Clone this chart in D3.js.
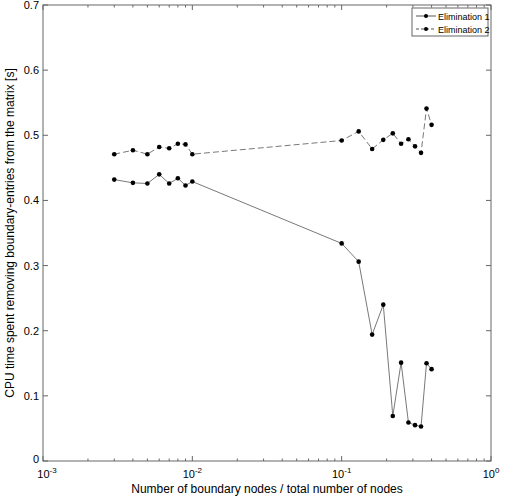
<!DOCTYPE html><html><head><meta charset="utf-8"><script src="https://cdn.jsdelivr.net/npm/d3@7"></script>
<style>body{margin:0;background:#fff}text{font-family:"Liberation Sans",Arial,sans-serif}</style></head><body>
<script>
const xVals=[0.003,0.004,0.005,0.006,0.007,0.008,0.009,0.01,0.1,0.13,0.16,0.19,0.22,0.25,0.28,0.31,0.34,0.37,0.4];
const elim1=[0.432,0.427,0.426,0.44,0.426,0.434,0.423,0.429,0.334,0.306,0.194,0.24,0.069,0.151,0.059,0.055,0.053,0.15,0.141];
const elim2=[0.471,0.477,0.471,0.482,0.480,0.487,0.486,0.471,0.492,0.506,0.479,0.493,0.503,0.487,0.494,0.483,0.473,0.541,0.516];
const yTicks=[0,0.1,0.2,0.3,0.4,0.5,0.6,0.7];
const xMajor=[-3,-2,-1,0];
const W=512,H=500,L=43,R=491,T=5,B=461;
const svg=d3.select("body").append("svg").attr("width",W).attr("height",H);
const x=d3.scaleLog().domain([1e-3,1]).range([L,R]);
const y=d3.scaleLinear().domain([0,0.7]).range([B,T]);
const ax="#666";
svg.append("rect").attr("x",L).attr("y",T).attr("width",R-L).attr("height",B-T).attr("fill","none").attr("stroke",ax);
const minor=[];for(let e=-3;e<0;e++)for(let k=2;k<=9;k++)minor.push(k*Math.pow(10,e));
minor.forEach(v=>{svg.append("line").attr("x1",x(v)).attr("x2",x(v)).attr("y1",B).attr("y2",B-2.5).attr("stroke",ax);
svg.append("line").attr("x1",x(v)).attr("x2",x(v)).attr("y1",T).attr("y2",T+2.5).attr("stroke",ax);});
xMajor.forEach(e=>{const v=Math.pow(10,e);
svg.append("line").attr("x1",x(v)).attr("x2",x(v)).attr("y1",B).attr("y2",B-5).attr("stroke",ax);
svg.append("line").attr("x1",x(v)).attr("x2",x(v)).attr("y1",T).attr("y2",T+5).attr("stroke",ax);
const t=svg.append("text").attr("x",x(v)+(e===-3?4:0)).attr("y",B+17).attr("text-anchor","middle").attr("font-size",11);
t.append("tspan").text("10");t.append("tspan").attr("dy",-5).attr("font-size",8).text(e);});
yTicks.forEach(v=>{svg.append("line").attr("x1",L).attr("x2",L+5).attr("y1",y(v)).attr("y2",y(v)).attr("stroke",ax);
svg.append("line").attr("x1",R).attr("x2",R-5).attr("y1",y(v)).attr("y2",y(v)).attr("stroke",ax);
svg.append("text").attr("x",L-4).attr("y",y(v)+(v===0?2:4)).attr("text-anchor","end").attr("font-size",11).text(v===0?"0":v.toFixed(1));});
svg.append("text").attr("x",(L+R)/2).attr("y",B+32).attr("text-anchor","middle").attr("font-size",12).text("Number of boundary nodes / total number of nodes");
svg.append("text").attr("transform",`translate(14,${(T+B)/2}) rotate(-90)`).attr("text-anchor","middle").attr("font-size",12).text("CPU time spent removing boundary-entries from the matrix [s]");
const line=d3.line().x((d,i)=>x(xVals[i])).y(d=>y(d));
[[elim1,null],[elim2,"6,3"]].forEach(([s,dash])=>{
svg.append("path").attr("d",line(s)).attr("fill","none").attr("stroke","#555").attr("stroke-width",0.8).attr("stroke-dasharray",dash);
svg.selectAll(null).data(s).enter().append("circle").attr("cx",(d,i)=>x(xVals[i])).attr("cy",d=>y(d)).attr("r",2.3).attr("fill","#000");});
const lg=svg.append("g");
lg.append("rect").attr("x",412).attr("y",8).attr("width",76).attr("height",28).attr("fill","#fff").attr("stroke",ax);
[["Elimination 1",null],["Elimination 2","3,2"]].forEach(([n,d],i)=>{const yy=16+i*13;
lg.append("line").attr("x1",416).attr("x2",436).attr("y1",yy).attr("y2",yy).attr("stroke","#555").attr("stroke-dasharray",d);
lg.append("circle").attr("cx",426).attr("cy",yy).attr("r",2).attr("fill","#000");
lg.append("text").attr("x",438).attr("y",yy+3.5).attr("font-size",9).text(n);});
</script></body></html>
